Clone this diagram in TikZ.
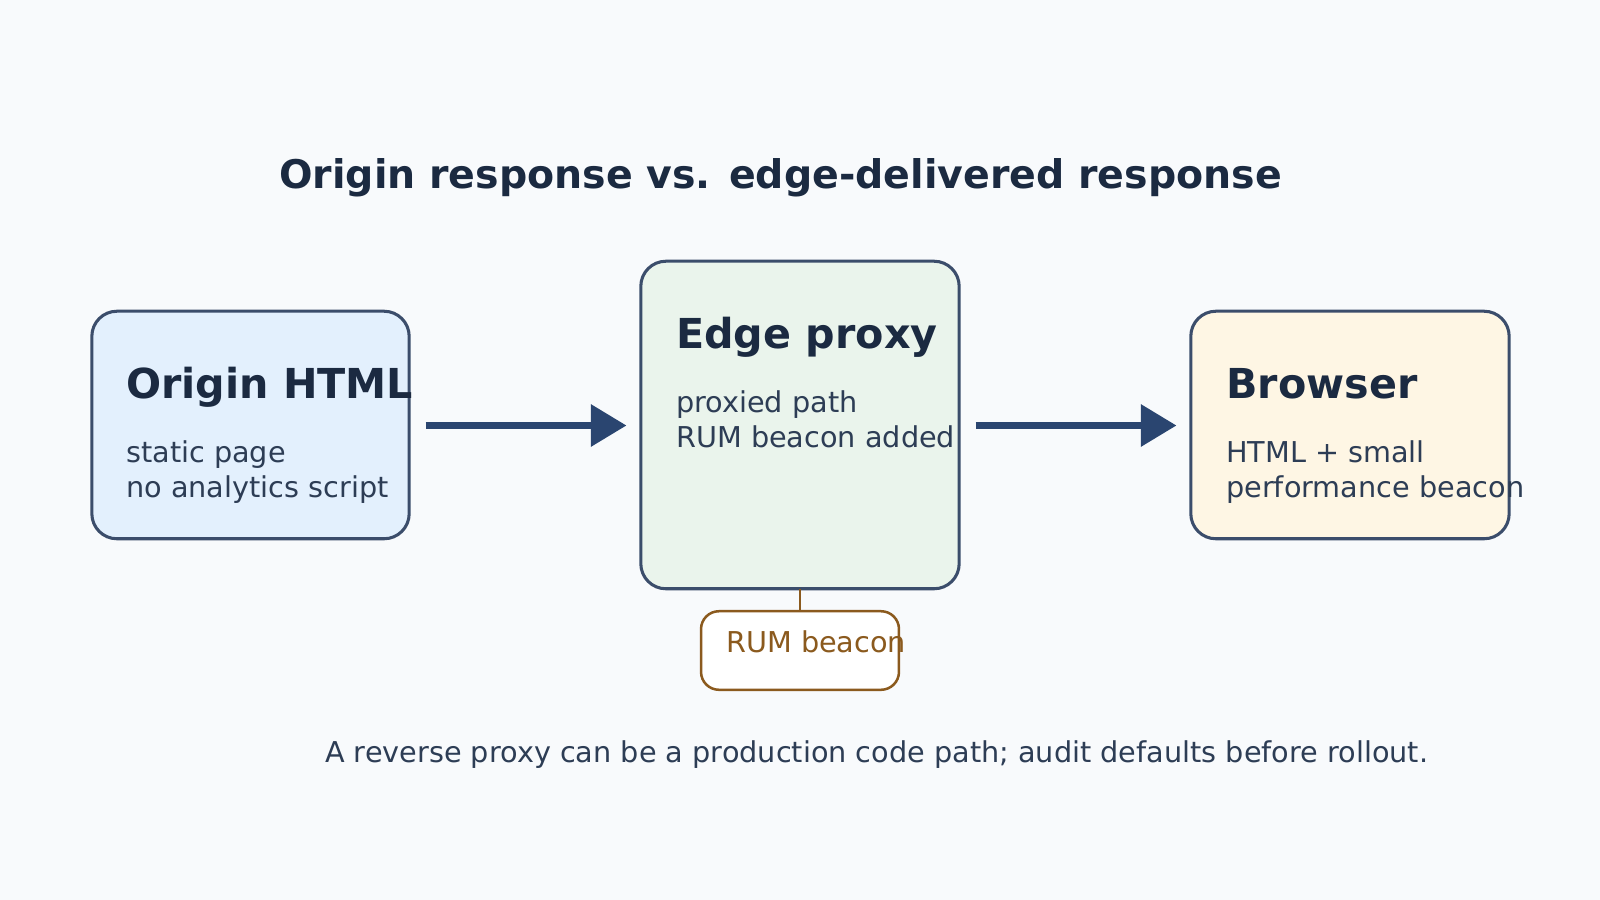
\documentclass[tikz,border=0pt]{standalone}
\usepackage{fontspec}
\setmainfont{DejaVu Sans}
\usetikzlibrary{arrows.meta}
\definecolor{bg}{HTML}{F8FAFC}
\definecolor{fo}{HTML}{E3F0FD}
\definecolor{fe}{HTML}{EAF4EC}
\definecolor{fb}{HTML}{FEF6E4}
\definecolor{st}{HTML}{3B4D6B}
\definecolor{ar}{HTML}{2A4570}
\definecolor{bn}{HTML}{8B5A1E}
\definecolor{hd}{HTML}{1B2A41}
\definecolor{bd}{HTML}{2D3D55}
\tikzset{
 card/.style={draw=st,line width=0.85pt,rounded corners=7pt},
 head/.style={anchor=base west,inner sep=0,font=\fontsize{11.5}{13}\selectfont\bfseries,text=hd},
 body/.style={anchor=base west,inner sep=0,font=\fontsize{8}{10}\selectfont,text=bd},
 flow/.style={draw=ar,line width=2pt,-{Triangle[length=0.35cm,width=0.4cm]}}
}
\begin{document}
\begin{tikzpicture}[x=0.01cm,y=-0.01cm]
\fill[bg] (0,0) rectangle (1568,882);
\useasboundingbox (0,0) rectangle (1568,882);
\node[anchor=base,inner sep=0,font=\fontsize{11}{13}\selectfont\bfseries,text=hd] (title) at (765,185) {Origin response vs. edge-delivered response};
\draw[card,fill=fo] (90,305) rectangle (401,528);
\draw[card,fill=fe] (628,256) rectangle (940,577);
\draw[card,fill=fb] (1167,305) rectangle (1479,528);
\node[head] (oh) at (123,391) {Origin HTML};
\node[body] (o1) at (123,453) {static page};
\node[body] (o2) at (123,488) {no analytics script};
\node[head] (eh) at (662,342) {Edge proxy};
\node[body] (e1) at (662,404) {proxied path};
\node[body] (e2) at (662,439) {RUM beacon added};
\node[head] (bh) at (1201,391) {Browser};
\node[body] (b1) at (1201,453) {HTML + small};
\node[body] (b2) at (1201,488) {performance beacon};
\coordinate (a1) at (417,417); \coordinate (a2) at (614,417);
\coordinate (a3) at (956,417); \coordinate (a4) at (1153,417);
\draw[flow] (a1) -- (a2);
\draw[flow] (a3) -- (a4);
\coordinate (c1) at (784,577); \coordinate (c2) at (784,599);
\draw[bn,line width=0.7pt] (c1) -- (c2);
\draw[draw=bn,fill=white,line width=0.7pt,rounded corners=5pt] (687,599) rectangle (881,676);
\node[body,text=bn] (rb) at (711,639) {RUM beacon};
\node[body] (foot) at (318,747) {A reverse proxy can be a production code path; audit defaults before rollout.};
\end{tikzpicture}
\end{document}
